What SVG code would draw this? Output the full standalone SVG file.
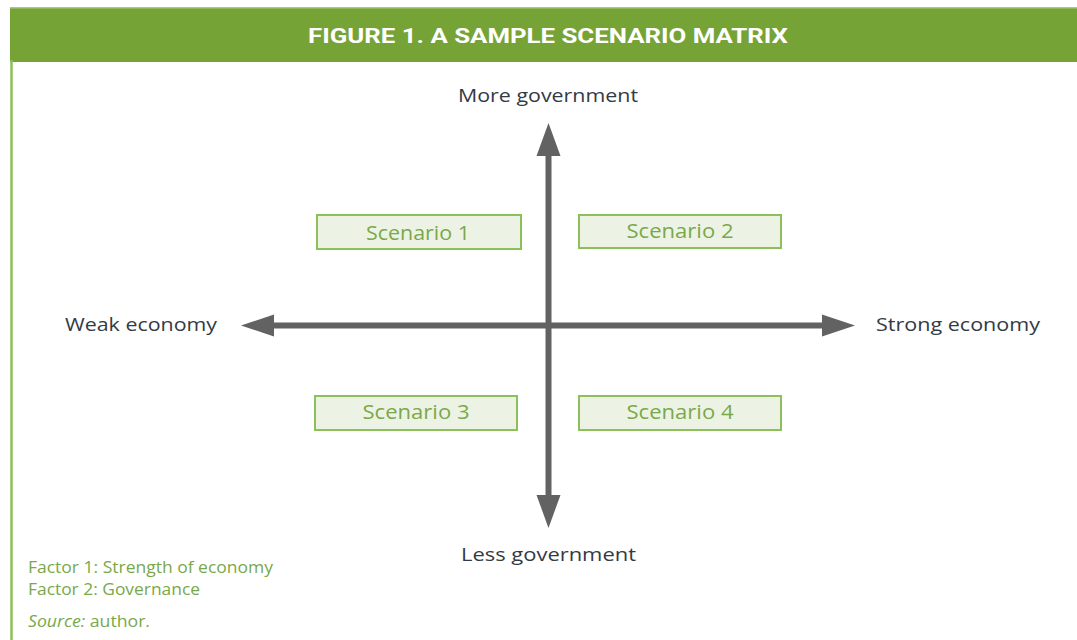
<svg xmlns="http://www.w3.org/2000/svg" width="1077" height="640" viewBox="0 0 1077 640">
<defs>
<style>
.axis{stroke:#626262;stroke-width:6;fill:none}
.head{fill:#626262}
.box{fill:#edf3e4;stroke:#8cc05a;stroke-width:2}
.btxt{font-family:"Open Sans","Liberation Sans",sans-serif;font-size:20px;fill:#7aa84a;text-anchor:middle}
.lbl{font-family:"Open Sans","Liberation Sans",sans-serif;font-size:18.5px;fill:#333a44}
.foot{font-family:"Open Sans","Liberation Sans",sans-serif;font-size:16px;fill:#78a84a}
.title{font-family:"Liberation Sans Narrow","Roboto","Liberation Sans",sans-serif;font-weight:bold;font-size:21px;fill:#ffffff;text-anchor:middle}
</style>
</defs>
<rect x="0" y="0" width="1077" height="640" fill="#ffffff"/>
<rect x="10" y="7" width="1067" height="55" fill="#76a335"/>
<rect x="10" y="7" width="1067" height="1.5" fill="#a9c98a"/>
<line x1="11.5" y1="60" x2="11.5" y2="640" stroke="#8dbf5a" stroke-width="2.5"/>
<text class="title" x="548" y="43" textLength="480" lengthAdjust="spacingAndGlyphs">FIGURE 1. A SAMPLE SCENARIO MATRIX</text>

<g id="connectors">
<line class="axis" x1="548.5" y1="150" x2="548.5" y2="500"/>
<polygon class="head" points="548.5,123 560.5,156 536.5,156"/>
<polygon class="head" points="548.5,528 560.5,495 536.5,495"/>
<line class="axis" x1="270" y1="325.5" x2="826" y2="325.5"/>
<polygon class="head" points="241,325.5 274,314.5 274,336.5"/>
<polygon class="head" points="855,325.5 822,314.5 822,336.5"/>
</g>

<g id="label-more"><text class="lbl" x="458" y="102" textLength="180" lengthAdjust="spacingAndGlyphs">More government</text></g>
<g id="label-less"><text class="lbl" x="461" y="561" textLength="175" lengthAdjust="spacingAndGlyphs">Less government</text></g>
<g id="label-weak"><text class="lbl" x="65" y="331" textLength="152" lengthAdjust="spacingAndGlyphs">Weak economy</text></g>
<g id="label-strong"><text class="lbl" x="876" y="331" textLength="164" lengthAdjust="spacingAndGlyphs">Strong economy</text></g>

<g id="scenario1"><rect class="box" x="317" y="215" width="204" height="34"/><text class="btxt" x="418" y="240" textLength="104" lengthAdjust="spacingAndGlyphs">Scenario 1</text></g>
<g id="scenario2"><rect class="box" x="579" y="215" width="202" height="33"/><text class="btxt" x="680" y="238" textLength="107" lengthAdjust="spacingAndGlyphs">Scenario 2</text></g>
<g id="scenario3"><rect class="box" x="315" y="396" width="202" height="34"/><text class="btxt" x="416" y="419" textLength="107" lengthAdjust="spacingAndGlyphs">Scenario 3</text></g>
<g id="scenario4"><rect class="box" x="579" y="396" width="202" height="34"/><text class="btxt" x="680" y="419" textLength="107" lengthAdjust="spacingAndGlyphs">Scenario 4</text></g>

<g id="footer">
<text class="foot" x="28" y="573" textLength="245" lengthAdjust="spacingAndGlyphs">Factor 1: Strength of economy</text>
<text class="foot" x="28" y="595" textLength="172" lengthAdjust="spacingAndGlyphs">Factor 2: Governance</text>
<text class="foot" x="28" y="627" textLength="122" lengthAdjust="spacingAndGlyphs"><tspan font-style="italic">Source:</tspan> author.</text>
</g>
</svg>
